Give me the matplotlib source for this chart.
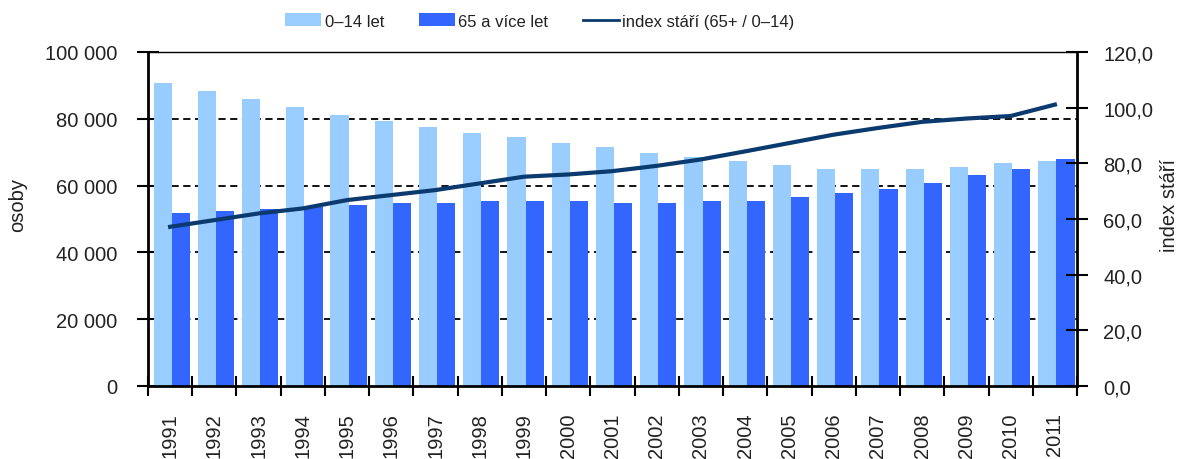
import matplotlib.pyplot as plt
import numpy as np
from matplotlib.ticker import FuncFormatter, FixedLocator

plt.rcParams['font.family'] = ['Liberation Sans', 'DejaVu Sans']

years = [str(y) for y in range(1991, 2012)]
# population 0-14 and 65+ (osoby)
deti = [90600, 88300, 85900, 83500, 81100, 79300, 77500, 75700, 74500, 72700, 71500,
        69800, 68600, 67400, 66200, 65000, 65000, 65000, 65600, 66800, 67400]
seniori = [51800, 52400, 53000, 53600, 54200, 54800, 54800, 55400, 55400, 55400, 54800,
           54800, 55400, 55400, 56600, 57800, 59000, 60800, 63200, 65000, 68000]
# index stari (65+ / 0-14)
index_stari = [57.2, 59.6, 62.0, 63.8, 66.8, 68.6, 70.4, 72.8, 75.2, 76.0, 77.2,
               79.1, 81.4, 84.3, 87.3, 90.3, 92.7, 94.9, 96.1, 97.0, 101.1]

light = '#99CCFF'
dark = '#3366FF'
navy = '#0B3A6E'
txt = '#222222'

fig = plt.figure(figsize=(11.81, 4.60), dpi=100)
ax = fig.add_axes([148 / 1181, 1 - 387 / 460, (1077 - 148) / 1181, (387 - 53) / 460])
x = np.arange(len(years))
w = 0.41

ax.bar(x - 0.375 + w / 2, deti, width=w, color=light, zorder=2, label='0–14 let')
ax.bar(x + 0.035 + w / 2, seniori, width=w, color=dark, zorder=2, label='65 a více let')

ax.set_xlim(-0.5, len(years) - 0.5)
ax.set_ylim(0, 100000)
ax.set_yticks(np.arange(0, 100001, 20000))
ax.yaxis.set_major_formatter(FuncFormatter(lambda v, p: f'{int(v):,}'.replace(',', ' ')))
for v in range(20000, 100000, 20000):
    ax.axhline(v, color='black', lw=1.3, ls=(0, (4, 2.5)), zorder=1)

ax.set_xticks(x)
ax.set_xticklabels(years, rotation=90, fontsize=14.5, color=txt)
ax.tick_params(axis='x', which='major', length=0, pad=19)
ax.xaxis.set_minor_locator(FixedLocator(np.arange(-0.5, len(years), 1.0)))
ax.tick_params(axis='x', which='minor', direction='inout', length=15, width=1.5)
ax.tick_params(axis='y', direction='inout', length=16, width=1.5, labelsize=14.5,
               labelcolor=txt, pad=14)
ax.set_ylabel('osoby', fontsize=14.5, color=txt)
ax.yaxis.set_label_coords(-0.130, 0.545)

for s in ['left', 'bottom']:
    ax.spines[s].set_linewidth(2)
ax.spines['top'].set_linewidth(1)
ax.spines['right'].set_visible(False)

ax2 = ax.twinx()
ax2.plot(x, index_stari, color=navy, lw=3, zorder=3, label='index stáří (65+ / 0–14)')
ax2.set_ylim(0, 120)
ax2.set_yticks(np.arange(0, 121, 20))
ax2.yaxis.set_major_formatter(FuncFormatter(lambda v, p: f'{v:.1f}'.replace('.', ',')))
ax2.tick_params(axis='y', direction='inout', length=16, width=1.5, labelsize=14.5,
                labelcolor=txt, pad=11)
ax2.set_ylabel('index stáří', fontsize=14.5, color=txt, rotation=90)
ax2.yaxis.set_label_coords(1.089, 0.542)
for s in ['left', 'bottom', 'top']:
    ax2.spines[s].set_visible(False)
ax2.spines['right'].set_linewidth(2)

h1, l1 = ax.get_legend_handles_labels()
h2, l2 = ax2.get_legend_handles_labels()
leg = fig.legend(h1 + h2, l1 + l2, loc='center', bbox_to_anchor=(540 / 1181, 1 - 22 / 460),
                 ncol=3, frameon=False, fontsize=12, handlelength=2.15, handleheight=0.8,
                 handletextpad=0.2, columnspacing=2.1, labelcolor=txt)
leg.get_lines()[0].set_linewidth(2)

fig.savefig('out.png', dpi=100)
